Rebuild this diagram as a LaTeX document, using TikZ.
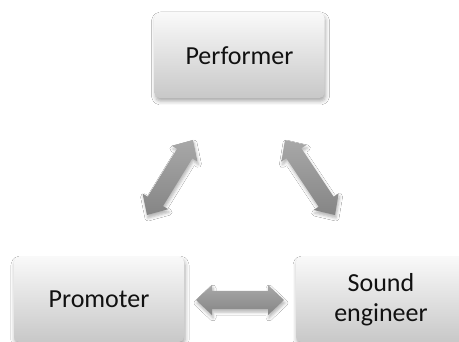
\documentclass[tikz,border=0pt]{standalone}
\usepackage{fontspec}
\setmainfont{Carlito}
\usetikzlibrary{calc,shadows.blur}
\definecolor{boxtop}{HTML}{F9F9F9}
\definecolor{boxbot}{HTML}{C8C8C8}
\definecolor{arrtop}{HTML}{A8A8A8}
\definecolor{arrbot}{HTML}{858585}
\definecolor{txt}{HTML}{111111}
\begin{document}
\begin{tikzpicture}[x=1pt,y=1pt,
  box/.style={rounded corners=5pt, top color=boxtop, bottom color=boxbot,
    minimum width=170pt, minimum height=85pt, inner sep=0pt,
    font=\fontsize{26}{30}\selectfont, text=txt, align=center,
    blur shadow={shadow xshift=1pt, shadow yshift=-3pt, shadow blur radius=4pt, shadow opacity=35}},
  bigarrow/.style={top color=arrtop, bottom color=arrbot,
    blur shadow={shadow xshift=1pt, shadow yshift=-3pt, shadow blur radius=3pt, shadow opacity=30},
    to path={
      (\tikztostart)
      -- ($(\tikztostart)!16pt!(\tikztotarget)!15pt!90:(\tikztotarget)$)
      -- ($(\tikztostart)!16pt!(\tikztotarget)!9pt!90:(\tikztotarget)$)
      -- ($(\tikztotarget)!16pt!(\tikztostart)!9pt!-90:(\tikztostart)$)
      -- ($(\tikztotarget)!16pt!(\tikztostart)!15pt!-90:(\tikztostart)$)
      -- (\tikztotarget)
      -- ($(\tikztotarget)!16pt!(\tikztostart)!15pt!90:(\tikztostart)$)
      -- ($(\tikztotarget)!16pt!(\tikztostart)!9pt!90:(\tikztostart)$)
      -- ($(\tikztostart)!16pt!(\tikztotarget)!9pt!-90:(\tikztotarget)$)
      -- ($(\tikztostart)!16pt!(\tikztotarget)!15pt!-90:(\tikztotarget)$)
      -- cycle}}
  ]
\useasboundingbox (0,0) rectangle (459,-342);
\clip (0,0) rectangle (459,-342);
\fill[white] (0,0) rectangle (459,-342);

\node[box] (perf) at (239.5,-55.5) {Performer};
\node[box] (prom) at (99,-299.5) {Promoter};
\node[box] (sound) at (381,-299.5) {Sound\\engineer};

\coordinate (l1) at (147,-215);
\coordinate (l2) at (193,-140);
\coordinate (r1) at (285,-140);
\coordinate (r2) at (335,-215);
\coordinate (h1) at (196,-300);
\coordinate (h2) at (284,-300);

\path[bigarrow] (l1) to (l2);
\path[bigarrow] (r1) to (r2);
\path[bigarrow] (h1) to (h2);
\end{tikzpicture}
\end{document}
